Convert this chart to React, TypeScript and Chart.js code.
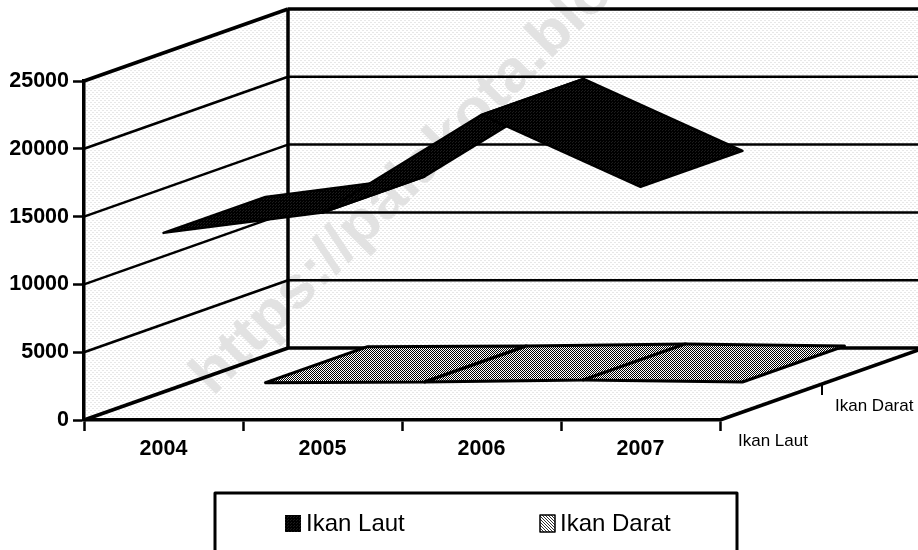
import React, { useEffect, useRef } from "react";
import { Chart, registerables } from "chart.js";

Chart.register(...registerables);

const categories = ["2004", "2005", "2006", "2007"];
const ikanLaut = [13800, 15300, 22500, 17200];
const ikanDarat = [100, 150, 300, 150];
const seriesLabels = ["Ikan Laut", "Ikan Darat"];
const yTicks = [0, 5000, 10000, 15000, 20000, 25000];
const watermark = "https://palakota.blogspot.com";

const FONT = '"Liberation Sans", Arial, sans-serif';
const DEPTH_X = 204;
const DEPTH_Y = -72;

function makePattern(ctx: CanvasRenderingContext2D, size: number, bg: string, fg: string, cells: number[][]) {
  const c = document.createElement("canvas");
  c.width = size;
  c.height = size;
  const g = c.getContext("2d")!;
  g.fillStyle = bg;
  g.fillRect(0, 0, size, size);
  g.fillStyle = fg;
  cells.forEach(([x, y]) => g.fillRect(x, y, 1, 1));
  return ctx.createPattern(c, "repeat")!;
}

const poly = (ctx: CanvasRenderingContext2D, pts: number[][]) => {
  ctx.beginPath();
  pts.forEach(([x, y], i) => (i ? ctx.lineTo(x, y) : ctx.moveTo(x, y)));
  ctx.closePath();
};

const seg = (ctx: CanvasRenderingContext2D, a: number[], b: number[], w: number) => {
  ctx.beginPath();
  ctx.moveTo(a[0], a[1]);
  ctx.lineTo(b[0], b[1]);
  ctx.lineWidth = w;
  ctx.strokeStyle = "#000";
  ctx.stroke();
};

const scene3d = {
  id: "scene3d",
  beforeDraw(chart: any) {
    const { ctx, chartArea: a, scales } = chart;
    const wall = makePattern(ctx, 4, "#ffffff", "#e8e8e8", [[0, 0], [1, 0], [2, 2], [3, 2]]);
    const y0 = scales.y.getPixelForValue(0);
    const yMax = scales.y.getPixelForValue(25000);
    ctx.save();
    ctx.fillStyle = wall;
    poly(ctx, [[a.left, yMax], [a.left + DEPTH_X, yMax + DEPTH_Y], [a.right + DEPTH_X, yMax + DEPTH_Y], [a.right + DEPTH_X, y0 + DEPTH_Y], [a.right, y0], [a.left, y0]]);
    ctx.fill();
    // watermark
    ctx.save();
    ctx.translate(213, 397);
    ctx.rotate(-Math.PI / 4);
    ctx.scale(1.07, 1);
    ctx.font = `bold 58px ${FONT}`;
    ctx.fillStyle = "#e2e2e2";
    ctx.textAlign = "left";
    ctx.textBaseline = "alphabetic";
    ctx.fillText(watermark, 0, 0);
    ctx.restore();
    // grid on walls
    yTicks.forEach((v) => {
      const y = scales.y.getPixelForValue(v);
      const outer = v === 0 || v === 25000;
      const w = outer ? 3.5 : 2.5;
      seg(ctx, [a.left, y], [a.left + DEPTH_X, y + DEPTH_Y], w);
      seg(ctx, [a.left + DEPTH_X, y + DEPTH_Y], [a.right + DEPTH_X, y + DEPTH_Y], w);
    });
    seg(ctx, [a.left + DEPTH_X, yMax + DEPTH_Y], [a.left + DEPTH_X, y0 + DEPTH_Y], 3.5);
    // depth axis
    seg(ctx, [a.right, y0], [a.right + DEPTH_X, y0 + DEPTH_Y], 3.5);
    seg(ctx, [a.right + DEPTH_X / 2, y0 + DEPTH_Y / 2], [a.right + DEPTH_X / 2, y0 + DEPTH_Y / 2 + 11], 2);
    ctx.restore();
  },
  afterDatasetsDraw(chart: any) {
    const { ctx, scales } = chart;
    const dark = makePattern(ctx, 3, "#000000", "#1c1c1c", [[0, 0], [2, 1]]);
    const checker = makePattern(ctx, 2, "#ffffff", "#000000", [[0, 0], [1, 1]]);
    const hatch = makePattern(ctx, 3, "#ffffff", "#303030", [[0, 0], [1, 1], [2, 2]]);
    const drawRibbon = (dsIndex: number, fill: any, width: number) => {
      const values: number[] = chart.data.datasets[dsIndex].data;
      const from = dsIndex / 2;
      const to = (dsIndex + 1) / 2;
      const at = (i: number, d: number) => [
        scales.x.getPixelForValue(i) + DEPTH_X * d,
        scales.y.getPixelForValue(values[i]) + DEPTH_Y * d,
      ];
      for (let i = 0; i < values.length - 1; i++) {
        poly(ctx, [at(i, from), at(i, to), at(i + 1, to), at(i + 1, from)]);
        ctx.fillStyle = fill;
        ctx.fill();
        ctx.lineWidth = width;
        ctx.lineJoin = "round";
        ctx.strokeStyle = "#000";
        ctx.stroke();
      }
    };
    ctx.save();
    drawRibbon(1, checker, 3);
    drawRibbon(0, dark, 2.5);

    // depth axis labels
    ctx.fillStyle = "#000";
    ctx.font = `17px ${FONT}`;
    ctx.textAlign = "left";
    ctx.textBaseline = "middle";
    ctx.fillText(seriesLabels[0], 738, 441);
    ctx.fillText(seriesLabels[1], 835, 406);

    // legend
    ctx.strokeStyle = "#000";
    ctx.lineWidth = 3;
    ctx.strokeRect(215, 493, 522, 80);
    ctx.font = `24px ${FONT}`;
    ctx.fillStyle = dark;
    ctx.fillRect(285, 515, 16, 17);
    ctx.fillStyle = "#000";
    ctx.fillText(seriesLabels[0], 306, 524);
    ctx.fillStyle = hatch;
    ctx.fillRect(540, 515, 15, 17);
    ctx.strokeStyle = "#000";
    ctx.lineWidth = 1.5;
    ctx.strokeRect(540, 515, 15, 17);
    ctx.fillStyle = "#000";
    ctx.fillText(seriesLabels[1], 560, 524);
    ctx.restore();
  },
};

export default function App() {
  const ref = useRef<HTMLCanvasElement>(null);
  useEffect(() => {
    document.body.style.margin = "0";
    const chart = new Chart(ref.current!, {
      type: "line",
      data: {
        labels: categories,
        datasets: [
          { label: seriesLabels[0], data: ikanLaut, borderWidth: 0, pointRadius: 0, borderColor: "transparent", backgroundColor: "#000" },
          { label: seriesLabels[1], data: ikanDarat, borderWidth: 0, pointRadius: 0, borderColor: "transparent", backgroundColor: "#888" },
        ],
      },
      options: {
        responsive: false,
        animation: false,
        layout: { padding: { top: 81, right: 198, left: 0, bottom: 0 } },
        plugins: { legend: { display: false }, title: { display: false }, tooltip: { enabled: false } },
        scales: {
          x: {
            type: "category",
            offset: true,
            afterFit: (s: any) => { s.height = 130; },
            border: { display: true, color: "#000", width: 3.5 },
            grid: { offset: true, drawOnChartArea: false, drawTicks: true, tickLength: 11, tickColor: "#000", tickWidth: 2.5, color: "#000" },
            ticks: { color: "#000", padding: 5, maxRotation: 0, font: { family: FONT, size: 21.5, weight: "bold" } },
          },
          y: {
            type: "linear",
            min: 0,
            max: 25000,
            afterFit: (s: any) => { s.width = 84; },
            border: { display: true, color: "#000", width: 3.5 },
            grid: { drawOnChartArea: false, drawTicks: true, tickLength: 11, tickColor: "#000", tickWidth: 2.5, color: "#000" },
            ticks: { stepSize: 5000, color: "#000", padding: 4, callback: (v: any) => String(v), font: { family: FONT, size: 21.5, weight: "bold" } },
          },
        },
      } as any,
      plugins: [scene3d as any],
    });
    return () => chart.destroy();
  }, []);
  return (
    <div style={{ position: "absolute", left: 0, top: 0, width: 918, height: 550, overflow: "hidden", background: "#fff" }}>
      <canvas ref={ref} width={918} height={550} style={{ display: "block" }} />
    </div>
  );
}
